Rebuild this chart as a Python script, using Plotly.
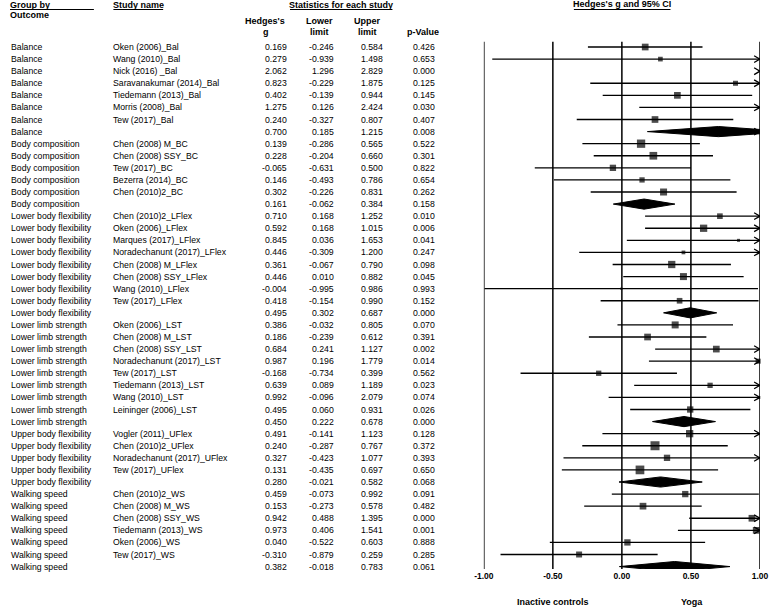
import math
import plotly.graph_objects as go

# ---------------- data ----------------
outcomes = (["Balance"] * 8 + ["Body composition"] * 6 + ["Lower body flexibility"] * 9
            + ["Lower limb strength"] * 9 + ["Upper body flexibility"] * 5 + ["Walking speed"] * 7)

studies = [
    "Oken (2006)_Bal", "Wang (2010)_Bal", "Nick (2016) _Bal", "Saravanakumar (2014)_Bal",
    "Tiedemann (2013)_Bal", "Morris (2008)_Bal", "Tew (2017)_Bal", "",
    "Chen (2008) M_BC", "Chen (2008) SSY_BC", "Tew (2017)_BC", "Bezerra (2014)_BC", "Chen (2010)2_BC", "",
    "Chen (2010)2_LFlex", "Oken (2006)_LFlex", "Marques (2017)_LFlex", "Noradechanunt (2017)_LFlex",
    "Chen (2008) M_LFlex", "Chen (2008) SSY_LFlex", "Wang (2010)_LFlex", "Tew (2017)_LFlex", "",
    "Oken (2006)_LST", "Chen (2008) M_LST", "Chen (2008) SSY_LST", "Noradechanunt (2017)_LST",
    "Tew (2017)_LST", "Tiedemann (2013)_LST", "Wang (2010)_LST", "Leininger (2006)_LST", "",
    "Vogler (2011)_UFlex", "Chen (2010)2_UFlex", "Noradechanunt (2017)_UFlex", "Tew (2017)_UFlex", "",
    "Chen (2010)2_WS", "Chen (2008) M_WS", "Chen (2008) SSY_WS", "Tiedemann (2013)_WS",
    "Oken (2006)_WS", "Tew (2017)_WS", "",
]

hedges_g = [0.169, 0.279, 2.062, 0.823, 0.402, 1.275, 0.240, 0.700,
            0.139, 0.228, -0.065, 0.146, 0.302, 0.161,
            0.710, 0.592, 0.845, 0.446, 0.361, 0.446, -0.004, 0.418, 0.495,
            0.386, 0.186, 0.684, 0.987, -0.168, 0.639, 0.992, 0.495, 0.450,
            0.491, 0.240, 0.327, 0.131, 0.280,
            0.459, 0.153, 0.942, 0.973, 0.040, -0.310, 0.382]

lower_limit = [-0.246, -0.939, 1.296, -0.229, -0.139, 0.126, -0.327, 0.185,
               -0.286, -0.204, -0.631, -0.493, -0.226, -0.062,
               0.168, 0.168, 0.036, -0.309, -0.067, 0.010, -0.995, -0.154, 0.302,
               -0.032, -0.239, 0.241, 0.196, -0.734, 0.089, -0.096, 0.060, 0.222,
               -0.141, -0.287, -0.423, -0.435, -0.021,
               -0.073, -0.273, 0.488, 0.406, -0.522, -0.879, -0.018]

upper_limit = [0.584, 1.498, 2.829, 1.875, 0.944, 2.424, 0.807, 1.215,
               0.565, 0.660, 0.500, 0.786, 0.831, 0.384,
               1.252, 1.015, 1.653, 1.200, 0.790, 0.882, 0.986, 0.990, 0.687,
               0.805, 0.612, 1.127, 1.779, 0.399, 1.189, 2.079, 0.931, 0.678,
               1.123, 0.767, 1.077, 0.697, 0.582,
               0.992, 0.578, 1.395, 1.541, 0.603, 0.259, 0.783]

p_value = [0.426, 0.653, 0.000, 0.125, 0.145, 0.030, 0.407, 0.008,
           0.522, 0.301, 0.822, 0.654, 0.262, 0.158,
           0.010, 0.006, 0.041, 0.247, 0.098, 0.045, 0.993, 0.152, 0.000,
           0.070, 0.391, 0.002, 0.014, 0.562, 0.023, 0.074, 0.026, 0.000,
           0.128, 0.372, 0.393, 0.650, 0.068,
           0.091, 0.482, 0.000, 0.001, 0.888, 0.285, 0.061]

# relative study weights; None for subgroup summaries
rel_weight = [45, 22, 16, 25, 45, 20, 45, None,
              69, 59, 40, 28, 49, None,
              32, 53, 9, 14, 53, 49, 5, 32, None,
              49, 45, 45, 25, 28, 28, 9, 40, None,
              53, 81, 40, 76, None,
              40, 45, 45, 45, 40, 36, None]

tick_vals = [-1.0, -0.5, 0.0, 0.5, 1.0]
tick_labels = ["-1.00", "-0.50", "0.00", "0.50", "1.00"]
axis_min, axis_max = -1.0, 1.0

# ---------------- styling ----------------
W, H = 778, 608
FONT = "Liberation Sans, Arial, sans-serif"
BODY = 8.7
HEAD = 9
px = lambda x: x / W
py = lambda y: 1 - y / H

rows = list(range(len(studies)))
is_summary = [s == "" for s in studies]

fig = go.Figure()

# CI lines (clipped to the axis)
lx, ly = [], []
for r, lo, hi, summ in zip(rows, lower_limit, upper_limit, is_summary):
    if summ:
        continue
    a = min(max(lo, axis_min), axis_max)
    b = min(max(hi, axis_min), axis_max)
    lx += [a, b, None]
    ly += [r, r, None]
fig.add_trace(go.Scatter(x=lx, y=ly, mode="lines", line=dict(color="black", width=1.3),
                         hoverinfo="skip", cliponaxis=False))

# arrow heads where CI exceeds the axis
DX, DY = 0.042, 0.28
ax_, ay_ = [], []
for r, hi in zip(rows, upper_limit):
    if hi > axis_max:
        ax_ += [axis_max - DX, axis_max, axis_max - DX, None]
        ay_ += [r - DY, r, r + DY, None]
fig.add_trace(go.Scatter(x=ax_, y=ay_, mode="lines", line=dict(color="black", width=1.3),
                         hoverinfo="skip", cliponaxis=False))

# study boxes
bx, by, bs = [], [], []
for r, g, w, summ in zip(rows, hedges_g, rel_weight, is_summary):
    if summ or g < axis_min or g > axis_max:
        continue
    bx.append(g)
    by.append(r)
    bs.append(math.sqrt(w))
fig.add_trace(go.Scatter(x=bx, y=by, mode="markers",
                         marker=dict(symbol="square", color="black", size=bs, line=dict(width=0)),
                         hoverinfo="skip", cliponaxis=False))

# summary diamonds
DH = 0.42
for r, g, lo, hi, summ in zip(rows, hedges_g, lower_limit, upper_limit, is_summary):
    if not summ:
        continue
    if hi > axis_max:
        t = DH * (hi - axis_max) / (hi - g)
        xs = [lo, g, axis_max, axis_max, g, lo]
        ys = [r, r - DH, r - t, r + t, r + DH, r]
    else:
        xs = [lo, g, hi, g, lo]
        ys = [r, r - DH, r, r + DH, r]
    fig.add_trace(go.Scatter(x=xs, y=ys, mode="lines", fill="toself", fillcolor="black",
                             line=dict(color="black", width=1), hoverinfo="skip", cliponaxis=False))

# vertical reference lines at each tick
shapes = []
for t in tick_vals:
    shapes.append(dict(type="line", xref="x", yref="y domain", x0=t, x1=t, y0=0, y1=1,
                       line=dict(color="black", width=1.5), layer="below"))

# header underlines
for x0, x1, yy in [(0, 86, 9.5), (106, 157, 9.5), (287, 392, 9.5), (578, 677, 9.5)]:
    shapes.append(dict(type="line", xref="paper", yref="paper", x0=px(x0), x1=px(x1),
                       y0=py(yy), y1=py(yy), line=dict(color="black", width=1)))

annotations = []


def ann(text, x, y, xanchor="left", size=BODY, yref="paper", bold=False):
    annotations.append(dict(
        text=f"<b>{text}</b>" if bold else text,
        x=px(x), y=py(y) if yref == "paper" else y, xref="paper", yref=yref,
        xanchor=xanchor, yanchor="middle", showarrow=False,
        borderpad=0, borderwidth=0,
        font=dict(family=FONT, size=size, color="black")))


# headers
ann("Group by", 0.5, 4.7, size=HEAD, bold=True)
ann("Outcome", 0.5, 15.5, size=HEAD, bold=True)
ann("Study name", 106, 4.7, size=HEAD, bold=True)
ann("Statistics for each study", 339.5, 4.7, "center", HEAD, bold=True)
ann("Hedges's", 261, 20.7, "center", HEAD, bold=True)
ann("g", 262, 31.7, "center", HEAD, bold=True)
ann("Lower", 317, 20.7, "center", HEAD, bold=True)
ann("limit", 317, 31.7, "center", HEAD, bold=True)
ann("Upper", 366.7, 20.7, "center", HEAD, bold=True)
ann("limit", 366.7, 31.7, "center", HEAD, bold=True)
ann("p-Value", 423, 31.7, "center", HEAD, bold=True)
ann("Hedges's g and 95% CI", 627.8, 4.3, "center", HEAD, bold=True)
ann("Inactive controls", 557, 602, "center", HEAD, bold=True)
ann("Yoga", 698.7, 602, "center", HEAD, bold=True)

# table rows
for r in rows:
    ann(outcomes[r], 1, r, yref="y")
    if studies[r]:
        ann(studies[r], 106, r, yref="y")
    ann(f"{hedges_g[r]:.3f}", 283.5, r, "right", yref="y")
    ann(f"{lower_limit[r]:.3f}", 332.5, r, "right", yref="y")
    ann(f"{upper_limit[r]:.3f}", 382.7, r, "right", yref="y")
    ann(f"{p_value[r]:.3f}", 436, r, "right", yref="y")

top_px, bot_px = 41.7, 569.0
row_top, row_bot = -0.44, 43.2

fig.update_layout(
    width=W, height=H, margin=dict(l=0, r=0, t=0, b=0),
    paper_bgcolor="white", plot_bgcolor="white", showlegend=False,
    font=dict(family=FONT, color="black"),
    xaxis=dict(domain=[px(485.7), px(768.7)], range=[axis_min, axis_max],
               tickvals=tick_vals, ticktext=[f"<b>{t}</b>" for t in tick_labels],
               tickfont=dict(family=FONT, size=8.5, color="black"),
               showgrid=False, zeroline=False, showline=False, ticks="", fixedrange=True),
    yaxis=dict(domain=[py(bot_px), py(top_px)], range=[row_bot, row_top],
               visible=False, showgrid=False, zeroline=False, fixedrange=True),
    shapes=shapes, annotations=annotations,
)

fig.write_html("out.html", config={"displayModeBar": False},
               post_script="document.body.style.margin='0';document.body.style.padding='0';")
